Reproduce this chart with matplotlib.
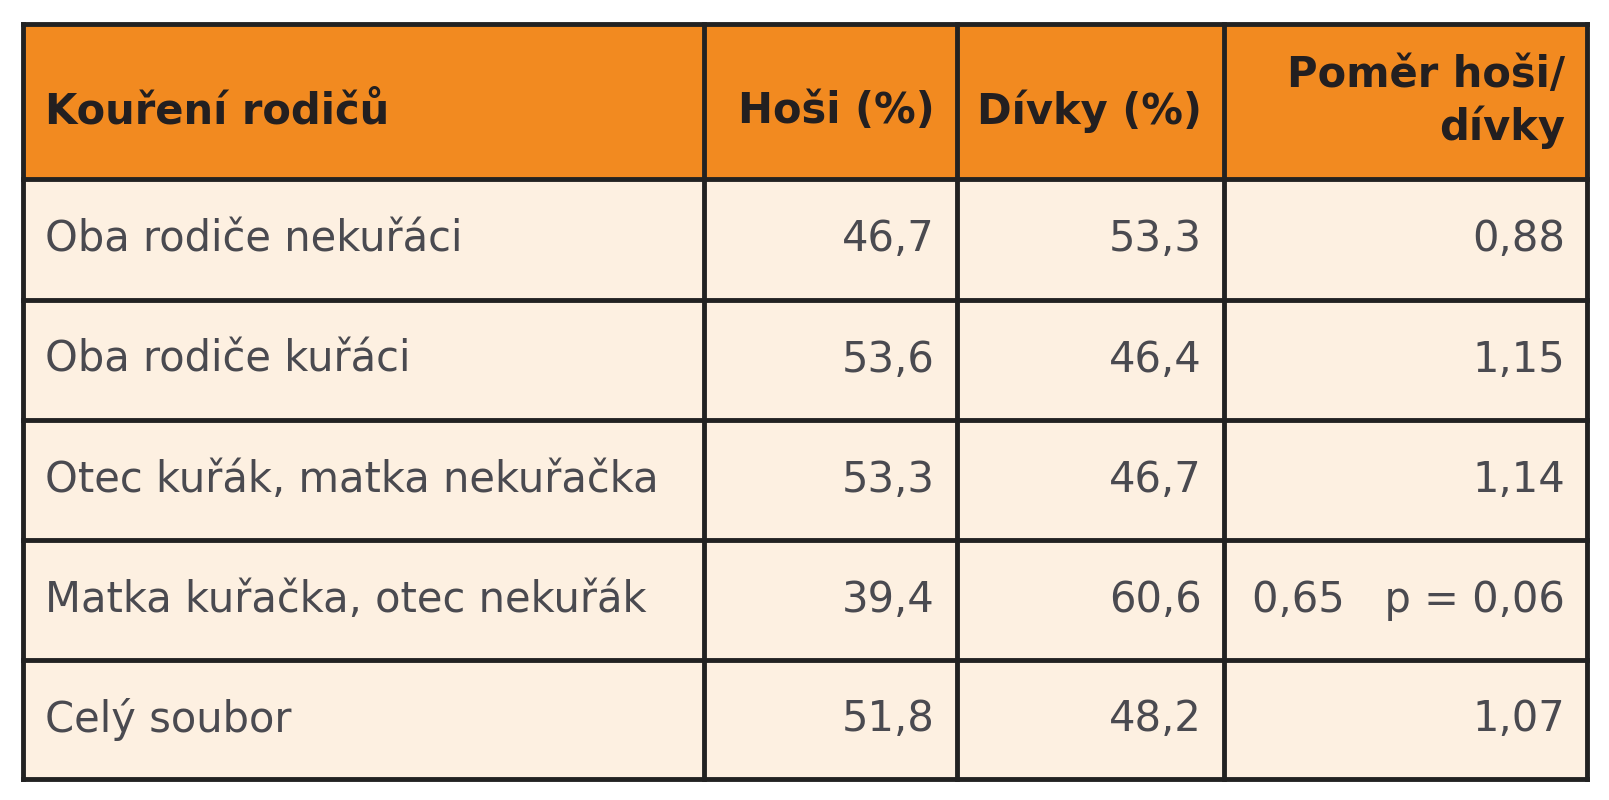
import matplotlib.pyplot as plt
from matplotlib.patches import Rectangle

headers = ['Kouření rodičů', 'Hoši (%)', 'Dívky (%)', 'Poměr hoši/\ndívky']
rows = ['Oba rodiče nekuřáci', 'Oba rodiče kuřáci', 'Otec kuřák, matka nekuřačka',
        'Matka kuřačka, otec nekuřák', 'Celý soubor']
hosi = ['46,7', '53,6', '53,3', '39,4', '51,8']
divky = ['53,3', '46,4', '46,7', '60,6', '48,2']
pomer = ['0,88', '1,15', '1,14', '0,65   p = 0,06', '1,07']

W, H = 1609, 800
col_x = [23, 704, 957, 1224, 1587]
row_y = [24, 179, 300, 420, 540, 660, 779]
fam = ['Liberation Sans Narrow', 'DejaVu Sans']

fig = plt.figure(figsize=(W / 100, H / 100), dpi=100)
ax = fig.add_axes([0, 0, 1, 1])
ax.set_xlim(0, W)
ax.set_ylim(H, 0)
ax.axis('off')

ax.add_patch(Rectangle((col_x[0], row_y[0]), col_x[-1] - col_x[0], row_y[1] - row_y[0],
                       facecolor='#F28A20', edgecolor='none'))
ax.add_patch(Rectangle((col_x[0], row_y[1]), col_x[-1] - col_x[0], row_y[-1] - row_y[1],
                       facecolor='#FDF0E1', edgecolor='none'))
for x in col_x:
    ax.plot([x, x], [row_y[0], row_y[-1]], color='#222222', lw=3.5)
for y in row_y:
    ax.plot([col_x[0], col_x[-1]], [y, y], color='#222222', lw=3.5)

pad = 22
for j, h in enumerate(headers):
    yc = (row_y[0] + row_y[1]) / 2 + (0 if '\n' in h else 10)
    if j == 0:
        ax.text(col_x[0] + pad, yc, h, ha='left', va='center', fontsize=30,
                fontweight='bold', color='#231F20', family=fam)
    else:
        ax.text(col_x[j + 1] - pad, yc, h, ha='right', va='center', fontsize=30,
                fontweight='bold', color='#231F20', family=fam, multialignment='right',
                linespacing=1.25)

for i in range(len(rows)):
    yc = (row_y[i + 1] + row_y[i + 2]) / 2
    ax.text(col_x[0] + pad, yc, rows[i], ha='left', va='center', fontsize=30,
            color='#4a4a50', family=fam)
    for j, v in enumerate([hosi[i], divky[i], pomer[i]]):
        ax.text(col_x[j + 2] - pad, yc, v, ha='right', va='center', fontsize=30,
                color='#4a4a50', family=fam)

fig.savefig('out.png', dpi=100, facecolor='white')
